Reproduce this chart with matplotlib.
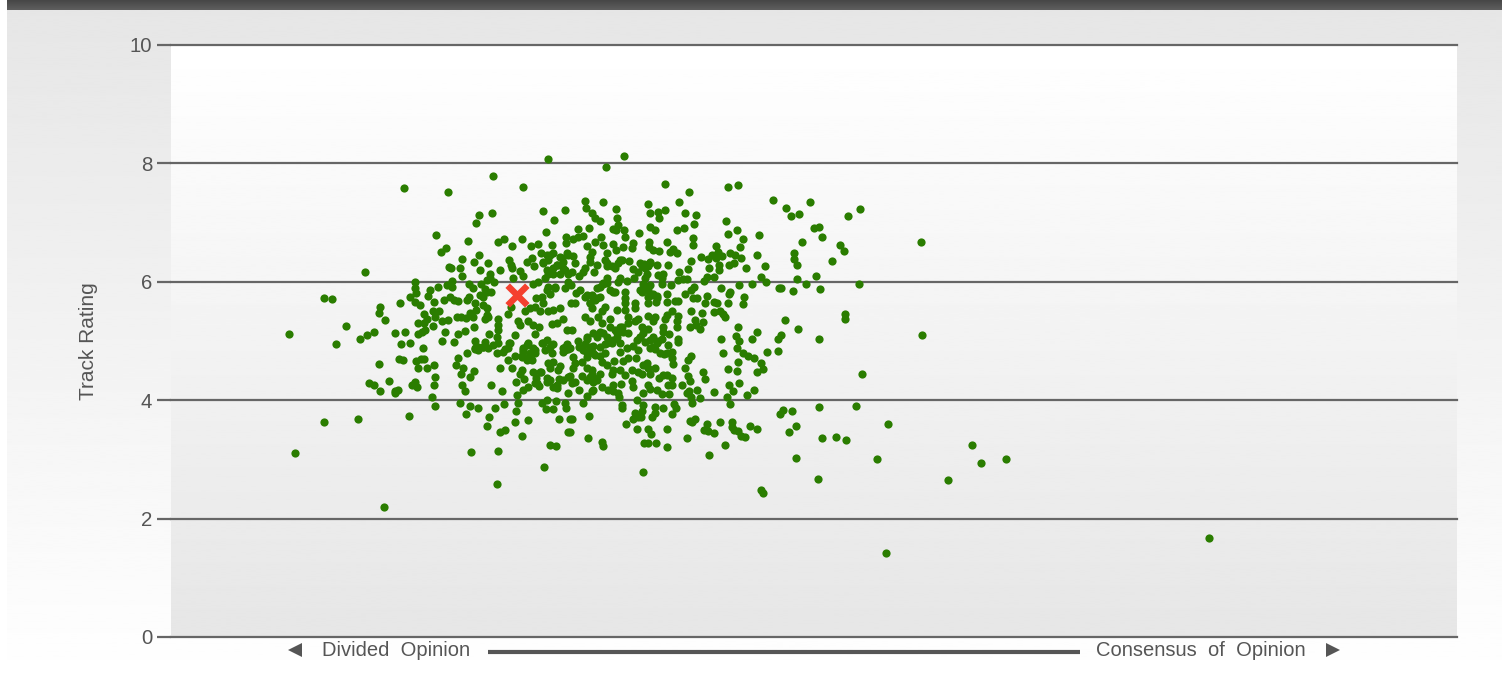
#!/usr/bin/env python
import numpy as np
import matplotlib
matplotlib.use("Agg")
import matplotlib.pyplot as plt

plt.rcParams["font.family"] = ["Liberation Sans", "DejaVu Sans"]

upper_left = [
(377,8.07),(322,7.79),(233,7.58),(277,7.52),(352,7.60),(321,7.16),(308,7.13),(305,6.99),(372,7.20),(394,7.21),
(383,7.05),(375,6.84),(265,6.79),(297,6.69),(275,6.57),(270,6.50),(327,6.67),(333,6.73),(351,6.72),(341,6.60),
(360,6.60),(367,6.64),(381,6.62),(395,6.75),(395,6.66),(308,6.46),(291,6.38),(303,6.34),(317,6.32),(278,6.25),
(280,6.23),(289,6.23),(309,6.20),(329,6.20),(194,6.17),(338,6.36),(340,6.28),(341,6.23),(349,6.19),(352,6.09),
(319,6.14),(291,6.09),(319,6.06),(342,6.07),(323,5.99),(316,6.03),(281,6.01),(244,5.99),(244,5.90),(245,5.81),
(276,5.95),(281,5.92),(267,5.92),(259,5.86),(257,5.76),(153,5.73),(161,5.71),(239,5.75),(229,5.65),(209,5.58),
(208,5.48),(214,5.35),(175,5.26),(118,5.11),(244,5.66),(249,5.61),(263,5.66),(273,5.70),(279,5.75),(283,5.69),
(287,5.67),(298,5.96),(302,5.90),(310,5.96),(314,5.87),(320,5.83),(316,5.83),(309,5.78),(312,5.75),(298,5.75),
(296,5.69),(304,5.65),(312,5.60),(316,5.55),(305,5.52),(299,5.47),(302,5.41),(286,5.41),(290,5.41),(295,5.39),
(316,5.44),(314,5.37),(317,5.41),(253,5.46),(256,5.38),(262,5.50),(268,5.51),(264,5.41),(271,5.34),(277,5.36),
(247,5.31),(253,5.30),(262,5.26),(303,5.24),(224,5.13),(234,5.15),(203,5.16),(196,5.10),(189,5.04),(247,5.12),
(254,5.19),(251,5.16),(274,5.16),(294,5.17),(287,5.12),(318,5.11),(327,5.37),(327,5.27),(327,5.19),(326,5.07),
(344,5.10),(337,5.45),(340,5.58),(347,5.34),(349,5.27),(357,5.34),(362,5.27),(368,5.24),(364,5.12),(381,5.29),
(386,5.31),(392,5.38),(389,5.56),(396,5.19),(354,5.50),(359,5.56),(364,5.58),(369,5.50),(372,5.64),(377,5.50),
(382,5.52),(365,5.73),(371,5.75),(362,5.96),(367,6.00),(374,6.06),(377,6.14),(382,6.23),(386,6.28),(392,6.23),
(389,6.14),(384,5.89),(377,5.92),(394,5.89),(379,5.80),(397,6.00),(361,6.40),(356,6.34),(363,6.27),(372,6.31),
(376,6.45),(370,6.48),(382,6.48),(389,6.42),(396,6.49),(377,6.37),(392,6.34),(397,6.14),
]
upper_right = [
(453,8.13),(435,7.94),(494,7.65),(518,7.52),(557,7.60),(567,7.63),(602,7.38),(639,7.34),(615,7.25),(628,7.15),
(620,7.11),(689,7.23),(677,7.11),(414,7.37),(432,7.35),(477,7.32),(508,7.35),(415,7.24),(445,7.23),(479,7.16),
(487,7.18),(494,7.21),(514,7.17),(525,7.12),(421,7.17),(424,7.08),(429,7.02),(446,7.08),(488,7.08),(555,7.03),
(523,6.97),(447,6.96),(418,6.91),(407,6.89),(442,6.90),(445,6.87),(453,6.87),(479,6.92),(484,6.87),(506,6.87),
(513,6.91),(566,6.87),(643,6.91),(648,6.93),(468,6.82),(454,6.76),(557,6.80),(588,6.79),(572,6.73),(651,6.75),
(522,6.74),(430,6.76),(412,6.77),(407,6.76),(402,6.73),(631,6.67),(478,6.68),(496,6.67),(522,6.63),(669,6.63),
(673,6.52),(462,6.65),(461,6.57),(452,6.59),(442,6.64),(445,6.54),(432,6.62),(424,6.67),(416,6.60),(421,6.51),
(478,6.58),(482,6.54),(488,6.52),(502,6.56),(499,6.50),(506,6.48),(545,6.60),(569,6.58),(547,6.51),(559,6.49),
(586,6.45),(623,6.48),(623,6.39),(626,6.28),(661,6.35),(530,6.42),(537,6.38),(541,6.45),(545,6.41),(551,6.43),
(564,6.45),(570,6.40),(402,6.44),(436,6.48),(434,6.37),(451,6.37),(458,6.35),(419,6.34),(404,6.32),(520,6.35),
(558,6.29),(563,6.31),(594,6.27),(575,6.23),(548,6.28),(548,6.20),(538,6.23),(517,6.22),(497,6.28),(486,6.28),
(479,6.33),(473,6.30),(477,6.26),(471,6.27),(447,6.31),(441,6.27),(436,6.27),(444,6.23),(426,6.28),(414,6.23),
(412,6.17),(423,6.16),(401,6.16),(462,6.22),(467,6.17),(476,6.14),(508,6.17),(487,6.12),(492,6.13),(463,6.07),
(474,6.06),(491,6.06),(507,6.03),(512,6.04),(516,6.04),(536,6.08),(533,6.02),(543,6.08),(590,6.08),(626,6.05),
(645,6.10),(408,6.10),(436,6.07),(449,6.07),(447,6.00),(456,6.02),(432,5.98),(436,5.98),(429,5.92),(426,5.89),
(500,5.94),(491,5.96),(473,5.95),(479,5.95),(523,5.92),(550,5.90),(568,5.94),(581,5.96),(595,5.99),(608,5.89),
(610,5.89),(635,5.97),(622,5.84),(649,5.87),(688,5.96),(400,5.95),(409,5.86),(405,5.81),(444,5.82),(454,5.83),
(471,5.83),(477,5.86),(481,5.78),(486,5.76),(496,5.80),(514,5.80),(520,5.86),(522,5.72),(526,5.72),(536,5.76),
(559,5.82),(558,5.79),(573,5.74),(414,5.75),(421,5.78),(429,5.74),(424,5.69),(454,5.72),(419,5.64),(404,5.64),
(400,5.64),(464,5.65),(454,5.64),(477,5.64),(485,5.66),(496,5.66),(504,5.67),(507,5.67),(534,5.64),(543,5.66),
(546,5.65),(557,5.64),(572,5.62),(421,5.55),(434,5.58),(431,5.50),(464,5.55),(454,5.52),(446,5.52),(501,5.51),
(496,5.44),(477,5.43),(484,5.41),(507,5.43),(520,5.50),(531,5.47),(543,5.49),(549,5.50),(552,5.46),(554,5.40),
(674,5.46),(674,5.37),(414,5.41),(419,5.34),(427,5.41),(439,5.38),(457,5.41),(467,5.38),(464,5.33),(431,5.30),
(482,5.33),(494,5.38),(506,5.33),(524,5.35),(532,5.32),(614,5.36),(567,5.23),(627,5.21),(586,5.16),(492,5.24),
(506,5.24),(519,5.23),(525,5.27),(529,5.20),(471,5.24),(477,5.20),(451,5.24),(444,5.19),(457,5.14),(472,5.14),
(492,5.16),(498,5.12),(401,5.19),(429,5.16),(422,5.13),(416,5.07),(436,5.07),(446,5.07),(482,5.07),(491,5.04),
(507,5.03),(550,5.04),(565,5.08),(581,5.04),(610,5.10),(607,5.04),(648,5.03),(469,5.07),
]
lower_left = [
(165,4.95),(230,4.95),(239,4.97),(252,4.88),(271,5.00),(283,4.99),(296,4.80),(287,4.72),(208,4.61),(228,4.69),
(232,4.68),(245,4.66),(250,4.69),(253,4.69),(263,4.59),(247,4.54),(256,4.55),(285,4.59),(292,4.55),(290,4.45),
(303,4.49),(299,4.40),(264,4.40),(218,4.32),(198,4.29),(203,4.26),(209,4.16),(263,4.26),(241,4.26),(244,4.30),
(246,4.23),(227,4.18),(224,4.13),(224,4.16),(291,4.26),(294,4.16),(320,4.25),(331,4.15),(345,4.31),(346,4.09),
(261,4.06),(264,3.91),(289,3.96),(299,3.90),(307,3.87),(295,3.77),(324,3.86),(333,3.93),(347,3.95),(345,3.82),
(318,3.72),(238,3.73),(187,3.68),(153,3.64),(344,3.64),(357,3.67),(316,3.57),(329,3.47),(334,3.50),(351,3.40),
(124,3.10),(300,3.13),(327,3.14),(379,3.25),(385,3.23),(373,2.87),(326,2.58),(213,2.20),(371,3.96),(376,4.01),
(375,3.85),(382,3.85),(385,3.98),(394,3.95),(395,3.86),(388,3.68),(397,4.12),(397,3.47),(399,3.68),(304,4.88),
(307,4.84),(312,4.90),(317,4.88),(322,4.93),(327,4.97),(304,5.00),(314,4.99),(326,4.79),(332,4.82),(337,4.88),
(338,4.97),(344,4.75),(337,4.68),(329,4.55),(341,4.54),(351,4.51),(349,4.44),(353,4.36),(352,4.17),(357,4.23),
(362,4.48),(370,4.48),(365,4.37),(364,4.29),(368,4.24),(376,4.37),(376,4.30),(382,4.23),(386,4.20),(388,4.35),
(397,4.40),(392,4.34),(379,4.54),(377,4.62),(382,4.65),(389,4.58),(387,4.51),(352,4.82),(356,4.93),(362,4.89),
(364,4.79),(361,4.68),(356,4.68),(351,4.74),(352,4.88),(374,4.85),(381,4.79),(382,4.95),(372,4.97),(392,4.88),
(396,4.95),(394,4.85),
]
lower_right = [
(568,5.00),(552,4.79),(566,4.88),(572,4.79),(577,4.75),(583,4.72),(596,4.81),(607,4.83),(567,4.65),(590,4.63),
(592,4.53),(586,4.48),(557,4.52),(566,4.49),(691,4.44),(568,4.29),(558,4.26),(562,4.16),(583,4.18),(576,4.09),
(556,4.05),(559,3.94),(543,4.14),(526,4.18),(529,4.03),(521,3.95),(520,4.06),(516,4.12),(518,4.16),(511,4.25),
(519,4.33),(517,4.41),(534,4.36),(532,4.48),(514,4.54),(520,4.75),(517,4.68),(502,4.61),(501,4.71),(501,4.81),
(493,4.78),(507,4.99),(497,4.93),(486,4.96),(484,4.86),(479,4.89),(487,5.00),(474,4.99),(467,4.85),(462,4.92),
(456,4.88),(449,4.82),(449,4.96),(441,4.96),(434,4.95),(434,4.80),(424,4.76),(416,4.79),(422,4.92),(414,4.95),
(407,5.00),(408,4.90),(399,4.88),(402,4.73),(404,4.62),(411,4.65),(429,4.74),(431,4.65),(436,4.59),(443,4.67),
(452,4.67),(457,4.71),(465,4.72),(402,4.54),(416,4.54),(421,4.51),(429,4.45),(411,4.41),(399,4.41),(419,4.40),
(423,4.37),(441,4.45),(442,4.51),(449,4.51),(454,4.43),(461,4.51),(461,4.33),(462,4.23),(467,4.48),(472,4.59),
(477,4.54),(471,4.45),(479,4.44),(484,4.55),(488,4.37),(492,4.43),(496,4.43),(501,4.38),(497,4.26),(501,4.26),
(477,4.26),(479,4.19),(486,4.17),(491,4.10),(498,4.10),(472,4.13),(466,4.01),(404,4.30),(401,4.29),(408,4.18),
(422,4.31),(421,4.16),(416,4.07),(431,4.23),(437,4.17),(442,4.26),(442,4.16),(450,4.27),(447,4.12),(448,4.05),
(412,3.95),(451,3.92),(451,3.86),(418,3.73),(401,3.68),(399,3.47),(472,3.92),(484,3.89),(492,3.86),(503,3.93),
(505,3.86),(484,3.79),(481,3.72),(501,3.77),(471,3.81),(464,3.79),(462,3.69),(467,3.71),(470,3.72),(455,3.59),
(466,3.51),(477,3.52),(480,3.43),(496,3.51),(473,3.28),(477,3.28),(485,3.27),(496,3.21),(516,3.36),(417,3.36),
(431,3.30),(432,3.23),(472,2.78),(538,3.07),(554,3.25),(519,3.65),(521,3.64),(524,3.69),(536,3.59),(533,3.50),
(537,3.48),(543,3.45),(549,3.64),(561,3.63),(561,3.54),(563,3.49),(567,3.48),(570,3.40),(574,3.38),(579,3.57),
(586,3.52),(609,3.77),(612,3.83),(621,3.82),(648,3.88),(685,3.91),(625,3.57),(618,3.47),(651,3.36),(665,3.37),
(675,3.32),(625,3.02),(647,2.67),(590,2.48),(592,2.43),
]
# extra tracks from the crowded middle of the cloud
core = [
(382,6.14),(386,6.28),(391,6.40),(397,6.45),(379,6.45),(372,6.34),(376,6.20),(394,6.20),(384,5.92),(376,5.86),
(422,5.75),(419,5.64),(426,5.72),(416,5.78),(472,5.97),(476,5.86),(482,5.80),(469,5.86),(477,5.75),(486,5.72),
(479,6.31),(474,6.23),(469,6.31),(449,5.24),(452,5.16),(446,5.13),(457,5.30),(442,5.02),(439,5.24),(426,5.07),
(432,5.13),(436,4.96),(416,5.04),(419,4.90),(412,4.85),(416,4.73),(422,4.79),(429,4.90),(357,4.96),(364,4.85),
(352,4.85),(357,4.71),(351,4.73),(359,4.79),(307,4.90),(312,4.90),(304,4.87),(334,4.87),(339,4.96),(376,5.02),
(371,4.96),(379,4.90),(394,4.90),(397,4.87),(392,4.82),(421,4.45),(426,4.34),(416,4.34),(422,4.17),(379,4.34),
(386,4.26),(366,4.29),(369,4.48),(476,4.62),(489,4.79),(496,4.79),(482,4.90),(479,5.02),(466,5.02),(469,5.07),
(449,6.37),(436,6.31),(419,6.42),(439,5.86),(432,5.97),(442,5.83),
]
far_right = [(750,6.67),(751,5.10),(717,3.60),(706,3.01),(715,1.42),(777,2.65),(801,3.24),(810,2.94),(835,3.01),(1038,1.67)]

selected_track = (346, 5.78)

rating_ticks = [0, 2, 4, 6, 8, 10]

W, H = 1503, 687
all_tracks = upper_left + upper_right + lower_left + lower_right + core + far_right
opinion = [p[0] for p in all_tracks]
rating = [p[1] for p in all_tracks]

fig = plt.figure(figsize=(W / 100, H / 100), dpi=100, facecolor="white")


def fig_box(left, top, right, bottom):
    return [left / W, 1 - bottom / H, (right - left) / W, (bottom - top) / H]


def fade(start, end, n=256):
    return np.linspace(start, end, n).reshape(-1, 1)


# page panel behind the chart, grey fading down to white
back = fig.add_axes(fig_box(7, 10, W - 1, 660), zorder=0)
back.imshow(fade(230, 254), cmap="gray", vmin=0, vmax=255, aspect="auto")
back.axis("off")

# dark strip along the top
strip = fig.add_axes(fig_box(7, 0, W - 1, 10), zorder=0)
strip.imshow(fade(70, 95), cmap="gray", vmin=0, vmax=255, aspect="auto")
strip.axis("off")

ax = fig.add_axes(fig_box(171, 45, 1457, 637), zorder=2)
ax.imshow(fade(255, 230), cmap="gray", vmin=0, vmax=255, aspect="auto",
          extent=[0, 1286, 0, 10], zorder=0)
ax.set_xlim(0, 1286)
ax.set_ylim(0, 10)

for side in ["left", "right", "top", "bottom"]:
    ax.spines[side].set_visible(False)

ax.set_yticks(rating_ticks)
ax.set_xticks([])
ax.grid(axis="y", color="#666666", linewidth=1.6, zorder=1)
ax.tick_params(axis="y", length=10, width=1.6, color="#666666", labelcolor="#555555",
               labelsize=14.7, pad=3.5)
for tick in ax.yaxis.get_gridlines():
    tick.set_clip_on(False)

ax.scatter(opinion, rating, s=35, color="#2a7d00", linewidths=0, zorder=3, clip_on=False)
ax.scatter([selected_track[0]], [selected_track[1]], marker="x", s=200, color="#f4402f",
           linewidths=4.6, zorder=4)

ax.set_ylabel("Track Rating", fontsize=15, color="#555555")
ax.yaxis.set_label_coords(-0.0565, 0.5)

# bottom scale: arrows, captions and the bar between them
fig.text(396.5 / W, 1 - 651 / H, "Divided  Opinion", fontsize=14.5, color="#555555",
         ha="center", va="center")
fig.text(1201 / W, 1 - 651 / H, "Consensus  of  Opinion", fontsize=14.5, color="#555555",
         ha="center", va="center")
over = fig.add_axes([0, 0, 1, 1], zorder=5)
over.set_xlim(0, W)
over.set_ylim(H, 0)
over.axis("off")
over.plot([488, 1080], [652, 652], color="#555555", linewidth=3, solid_capstyle="butt")
over.plot([295], [650], marker="<", markersize=10.5, color="#555555", markeredgewidth=0)
over.plot([1333], [650], marker=">", markersize=10.5, color="#555555", markeredgewidth=0)

fig.savefig("out.png", dpi=100)
